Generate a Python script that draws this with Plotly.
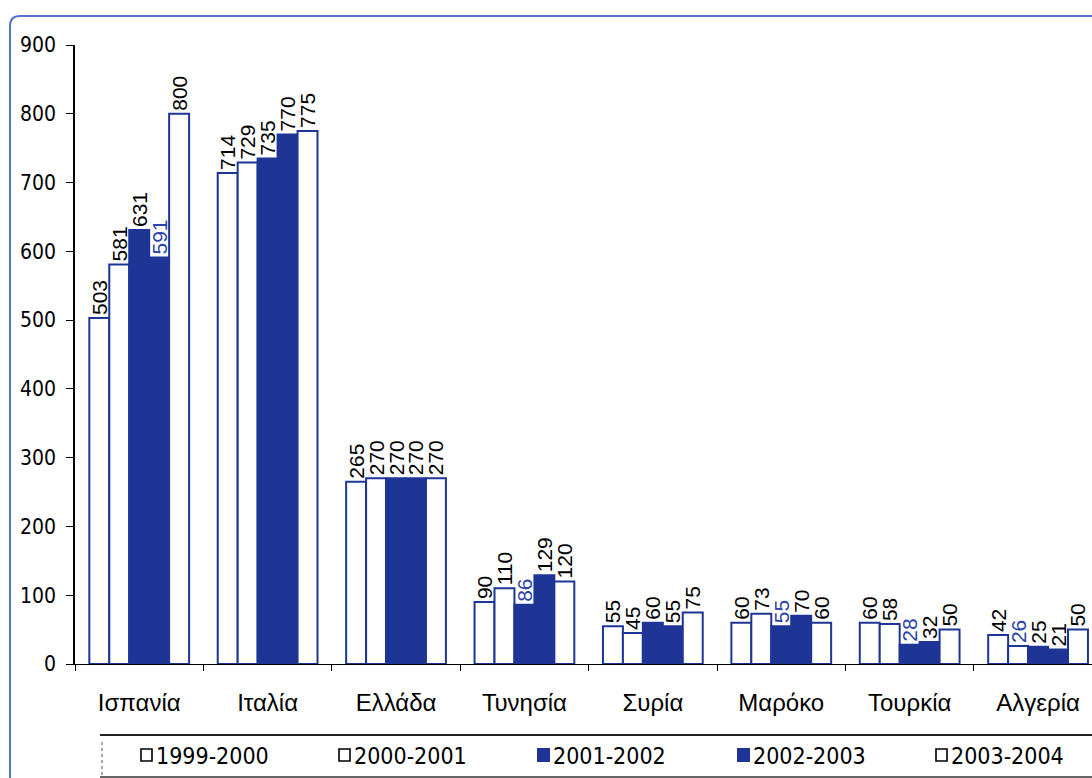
import plotly.graph_objects as go

# Countries on the category axis
countries = ["Ισπανία", "Ιταλία", "Ελλάδα", "Τυνησία", "Συρία", "Μαρόκο", "Τουρκία", "Αλγερία"]

# Seasons (legend entries)
seasons = ["1999-2000", "2000-2001", "2001-2002", "2002-2003", "2003-2004"]

# Production per season, one value per country
s_1999_2000 = [503, 714, 265, 90, 55, 60, 60, 42]
s_2000_2001 = [581, 729, 270, 110, 45, 73, 58, 26]
s_2001_2002 = [631, 735, 270, 86, 60, 55, 28, 25]
s_2002_2003 = [591, 770, 270, 129, 55, 70, 32, 21]
s_2003_2004 = [800, 775, 270, 120, 75, 60, 50, 50]

y_ticks = [0, 100, 200, 300, 400, 500, 600, 700, 800, 900]

series = [s_1999_2000, s_2000_2001, s_2001_2002, s_2002_2003, s_2003_2004]

# Styling
DARK = "#1f3596"
LABEL_BLUE = "#2b44a8"
FRAME = "#5573cc"
fills = ["white", "white", DARK, DARK, "white"]
# Value labels printed in blue instead of black (season index, country index)
blue_labels = {(3, 0), (2, 3), (2, 5), (2, 6), (1, 7)}

NARROW = "DejaVu Sans Condensed, Liberation Sans Narrow, sans-serif"
REGULAR = "Liberation Sans, Arial, sans-serif"

W, H = 1092, 778
ML, MT, MB = 75, 45, 114
PLOT_W = W - ML
PLOT_H = H - MT - MB


def xp(px):
    return (px - ML) / PLOT_W


def yp(py):
    return (H - MB - py) / PLOT_H


fig = go.Figure()
for i, (name, vals) in enumerate(zip(seasons, series)):
    colors = [LABEL_BLUE if (i, j) in blue_labels else "black" for j in range(len(vals))]
    fig.add_trace(go.Bar(
        name=name,
        x=countries,
        y=vals,
        marker=dict(color=fills[i], line=dict(color=DARK, width=2)),
        text=[str(v) for v in vals],
        textposition="outside",
        textangle=-90,
        constraintext="none",
        cliponaxis=False,
        textfont=dict(family=REGULAR, size=21, color=colors),
        showlegend=False,
    ))

shapes = []
annotations = []

# Outer frame with rounded top-left corner
fx, fy, r = 10, 16, 10
path = (f"M {xp(fx)},{yp(H + 20)} L {xp(fx)},{yp(fy + r)} "
        f"Q {xp(fx)},{yp(fy)} {xp(fx + r)},{yp(fy)} L {xp(W + 20)},{yp(fy)}")
shapes.append(dict(type="path", xref="paper", yref="paper", path=path,
                   line=dict(color=FRAME, width=2), layer="below"))

# Legend box
shapes.append(dict(type="line", xref="paper", yref="paper",
                   x0=xp(100), x1=xp(W + 20), y0=yp(735), y1=yp(735),
                   line=dict(color="#222222", width=2)))
shapes.append(dict(type="line", xref="paper", yref="paper",
                   x0=xp(102), x1=xp(102), y0=yp(742), y1=yp(H + 10),
                   line=dict(color="#555555", width=1, dash="dot")))
shapes.append(dict(type="line", xref="paper", yref="paper",
                   x0=xp(100), x1=xp(W + 20), y0=yp(777), y1=yp(777),
                   line=dict(color="#333333", width=1.5)))

legend_x = [140, 338, 537, 737, 935]
for k, name in enumerate(seasons):
    x0 = legend_x[k]
    if fills[k] == "white":
        shapes.append(dict(type="rect", xref="paper", yref="paper",
                           x0=xp(x0 + 1), x1=xp(x0 + 12), y0=yp(749), y1=yp(761),
                           fillcolor="white", line=dict(color="black", width=1.6)))
    else:
        shapes.append(dict(type="rect", xref="paper", yref="paper",
                           x0=xp(x0), x1=xp(x0 + 13), y0=yp(748), y1=yp(762),
                           fillcolor=DARK, line=dict(width=0)))
    annotations.append(dict(xref="paper", yref="paper", x=xp(x0 + 14), y=yp(756),
                            xanchor="left", yanchor="middle", text=name, showarrow=False,
                            font=dict(family=NARROW, size=23, color="black")))

fig.update_layout(
    width=W, height=H,
    margin=dict(l=ML, r=0, t=MT, b=MB, autoexpand=False),
    paper_bgcolor="white", plot_bgcolor="white",
    barmode="group", bargap=0.223, bargroupgap=0,
    showlegend=False,
    shapes=shapes,
    annotations=annotations,
    xaxis=dict(
        range=[-0.5, 7.42],
        showline=True, linecolor="black", linewidth=1,
        ticks="outside", tickson="boundaries", ticklen=6, tickcolor="black",
        tickfont=dict(family=REGULAR, size=24, color="black"),
        ticklabelstandoff=17,
        showgrid=False, zeroline=False,
    ),
    yaxis=dict(
        range=[0, 900],
        tickvals=y_ticks,
        showline=True, linecolor="black", linewidth=1.5,
        ticks="outside", ticklen=7, tickcolor="black",
        tickfont=dict(family=NARROW, size=21, color="black"),
        ticklabelstandoff=6,
        showgrid=False, zeroline=False,
    ),
)

fig.write_html("out.html")
